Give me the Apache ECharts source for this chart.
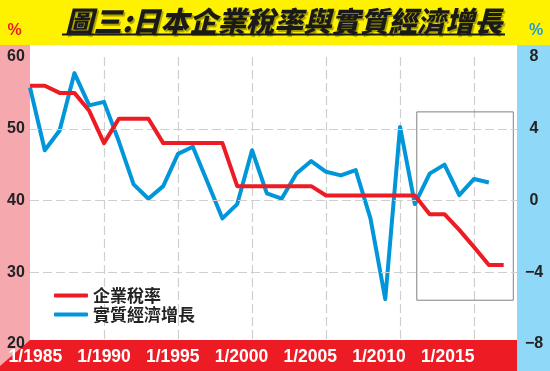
<!DOCTYPE html>
<html><head><meta charset="utf-8">
<script src="https://cdn.jsdelivr.net/npm/echarts@6/dist/echarts.min.js"></script>
<style>html,body{margin:0;padding:0;background:#fff}#c{width:550px;height:371px}</style>
</head><body><div id="c"></div>
<script>
const titleText = '圖三:日本企業稅率與實質經濟增長';
const seriesNames = ['企業稅率', '實質經濟增長'];
const taxYears = [1985,1986,1987,1988,1989,1990,1991,1992,1993,1994,1995,1996,1997,1998,1999,2000,2001,2002,2003,2004,2005,2006,2007,2008,2009,2010,2011,2012,2013,2014,2015,2016,2017];
const taxRate  = [56,56,55,55,52.5,48,51.4,51.4,51.4,48,48,48,48,48,42,42,42,42,42,42,40.7,40.7,40.7,40.7,40.7,40.7,40.7,38.1,38.1,35.9,33.5,31,31];
const gdpYears = [1985,1986,1987,1988,1989,1990,1991,1992,1993,1994,1995,1996,1997,1998,1999,2000,2001,2002,2003,2004,2005,2006,2007,2008,2009,2010,2011,2012,2013,2014,2015,2016];
const gdpGrowth = [6.3,2.8,3.9,7.1,5.3,5.5,3.3,0.9,0.1,0.8,2.6,3.0,1.0,-1.0,-0.2,2.8,0.4,0.1,1.5,2.2,1.6,1.4,1.7,-1.0,-5.5,4.1,-0.2,1.5,2.0,0.3,1.2,1.0];
const xTickLabels = ['1/1985','1/1990','1/1995','1/2000','1/2005','1/2010','1/2015'];
const leftAxis = {min: 20, max: 60, interval: 10};
const rightAxis = {min: -8, max: 8, interval: 4};
const xRange = {min: 1985, max: 2017.9, interval: 5};
const highlightBox = [[2011.13, 4.94], [2017.65, -5.56]];

const RED = '#ED1C24', BLUE = '#0096D9';
const chart = echarts.init(document.getElementById('c'), null, {renderer: 'canvas'});
const zip = (xs, ys) => xs.map((x, i) => [x, ys[i]]);
const dashed = {show: true, lineStyle: {color: '#cfcfcf', width: 1.2, type: [9, 4]}, showMinLine: false, showMaxLine: false};
const numFont = {fontFamily: 'Liberation Sans', fontWeight: 'bold', fontSize: 16, color: '#222'};

chart.setOption({
  backgroundColor: '#fff',
  animation: false,
  title: {
    text: titleText, left: 60, top: 2,
    textStyle: {fontFamily: 'Noto Sans CJK TC', fontWeight: 900, fontStyle: 'italic', fontSize: 28.5, color: '#1a1a1a',
      textShadowColor: 'rgba(0,0,0,0.35)', textShadowOffsetX: 1.5, textShadowOffsetY: 1.5, textShadowBlur: 1}
  },
  graphic: [
    {type: 'rect', z: -5, shape: {x: 0, y: 0, width: 550, height: 45}, style: {fill: '#FFF200'}},
    {type: 'rect', z: 1, shape: {x: 0, y: 45, width: 30, height: 326}, style: {fill: '#F5A9AE'}},
    {type: 'rect', z: 1, shape: {x: 517, y: 45, width: 33, height: 326}, style: {fill: '#8FD8F8'}},
    {type: 'rect', z: 1, shape: {x: 0, y: 340, width: 517, height: 31}, style: {fill: RED}},
    {type: 'polygon', z: 1, shape: {points: [[0, 340], [30, 340], [0, 366]]}, style: {fill: '#F5A9AE'}},
    {type: 'line', z: 7, shape: {x1: 62, y1: 34.5, x2: 505, y2: 34.5}, style: {stroke: '#1a1a1a', lineWidth: 2}},
    {type: 'text', z: 7, x: 14.5, y: 31, style: {text: '%', fill: RED, font: 'bold 16px "Liberation Sans"', textAlign: 'center', textVerticalAlign: 'middle'}},
    {type: 'text', z: 7, x: 536, y: 31, style: {text: '%', fill: '#1E9BD7', font: 'bold 16px "Liberation Sans"', textAlign: 'center', textVerticalAlign: 'middle'}}
  ],
  legend: {
    orient: 'vertical', left: 49, top: 282, itemWidth: 34, itemHeight: 4, itemGap: 2, icon: 'roundRect',
    data: seriesNames,
    textStyle: {fontFamily: 'Noto Sans CJK TC', fontWeight: 'bold', fontSize: 17, color: '#222'}
  },
  grid: [
    {left: 30, right: 33, top: 57, bottom: 27},
    {left: 1, width: 481, top: 57, bottom: 27}
  ],
  xAxis: [
    {type: 'value', gridIndex: 0, min: xRange.min, max: xRange.max, interval: xRange.interval,
      axisLine: {show: false}, axisTick: {show: false}, axisLabel: {show: false}, splitLine: dashed},
    {type: 'category', gridIndex: 1, data: xTickLabels, boundaryGap: true, z: 3,
      axisLine: {show: false}, axisTick: {show: false}, splitLine: {show: false},
      axisLabel: {margin: 4, color: '#fff', fontFamily: 'Liberation Sans', fontWeight: 'bold', fontSize: 17.5, interval: 0}}
  ],
  yAxis: [
    {type: 'value', gridIndex: 0, position: 'left', min: leftAxis.min, max: leftAxis.max, interval: leftAxis.interval, z: 3,
      axisLine: {show: false}, axisTick: {show: false}, splitLine: dashed,
      axisLabel: Object.assign({margin: 14, align: 'center'}, numFont)},
    {type: 'value', gridIndex: 0, position: 'right', min: rightAxis.min, max: rightAxis.max, interval: rightAxis.interval, z: 3,
      axisLine: {show: false}, axisTick: {show: false}, splitLine: {show: false},
      axisLabel: Object.assign({margin: 17, align: 'center', formatter: v => v < 0 ? '\u2212' + Math.abs(v) : String(v)}, numFont)},
    {type: 'value', gridIndex: 1, show: false}
  ],
  series: [
    {name: seriesNames[1], type: 'line', xAxisIndex: 0, yAxisIndex: 1, data: zip(gdpYears, gdpGrowth), z: 2,
      showSymbol: false, symbol: 'none', color: BLUE, lineStyle: {width: 4, color: BLUE, join: 'round'},
      markArea: {silent: true, itemStyle: {color: 'rgba(0,0,0,0)', borderColor: '#808080', borderWidth: 1},
        data: [[{coord: highlightBox[0]}, {coord: highlightBox[1]}]]}},
    {name: seriesNames[0], type: 'line', xAxisIndex: 0, yAxisIndex: 0, data: zip(taxYears, taxRate), z: 3,
      showSymbol: false, symbol: 'none', color: RED, lineStyle: {width: 4, color: RED, join: 'round'}}
  ]
});
</script></body></html>
